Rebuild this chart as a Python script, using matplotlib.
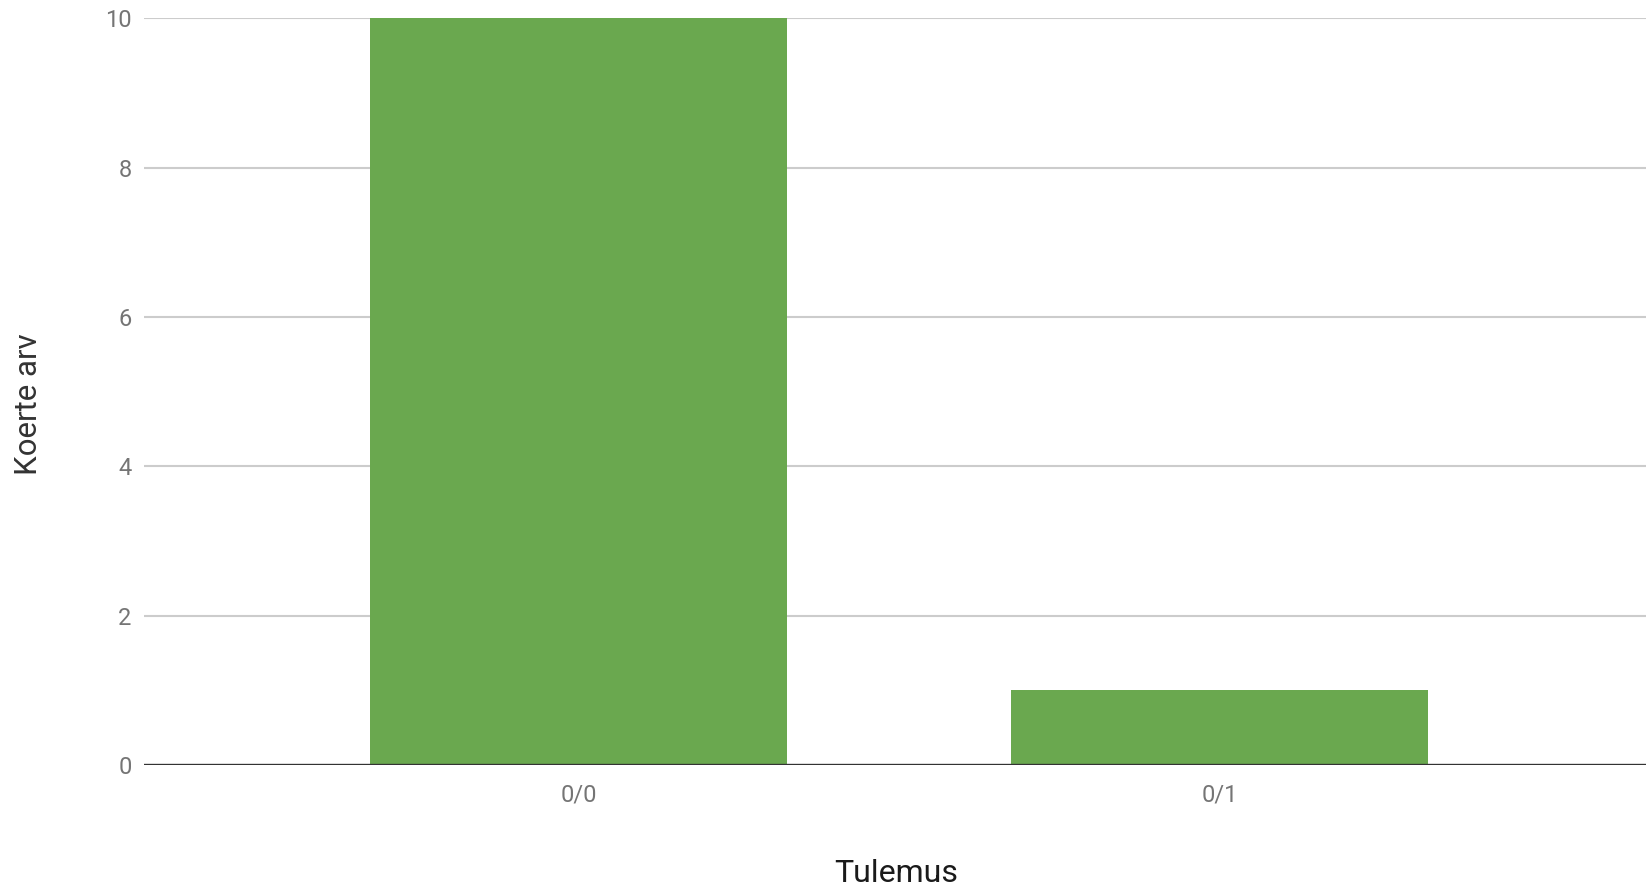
import matplotlib.pyplot as plt

categories = ["0/0", "0/1"]
counts = [10, 1]
y_ticks = [0, 2, 4, 6, 8, 10]


def main():
    plt.rcParams['font.family'] = ['Roboto', 'DejaVu Sans']

    fig = plt.figure(figsize=(16.46, 8.88), dpi=100)
    ax = fig.add_axes([0.0875, 0.1385, 0.9125, 0.841])

    x = list(range(len(categories)))
    ax.bar(x, counts, width=0.65, color="#6aa84f", linewidth=0, zorder=3)

    ax.set_xlim(-0.678, 1.665)
    ax.set_ylim(0, 10)
    ax.set_yticks(y_ticks)
    ax.set_xticks(x)
    ax.set_xticklabels(categories)

    # gridlines and baseline
    ax.grid(axis="y", color="#cccccc", linewidth=1.5, zorder=0)
    ax.axhline(0, color="#333333", linewidth=2.4, zorder=4)
    for s in ax.spines.values():
        s.set_visible(False)

    ax.tick_params(axis="both", length=0, labelsize=17, colors="#757575")
    ax.tick_params(axis="y", pad=9)
    ax.tick_params(axis="x", pad=13)

    ax.set_xlabel("Tulemus", fontsize=23, color="#1a1a1a", va="top")
    ax.xaxis.set_label_coords(0.501, -0.126)
    ax.set_ylabel("Koerte arv", fontsize=22.5, color="#333333", va="center")
    ax.yaxis.set_label_coords(-0.0766, 0.483)

    fig.savefig("out.png", dpi=100)


if __name__ == "__main__":
    main()
